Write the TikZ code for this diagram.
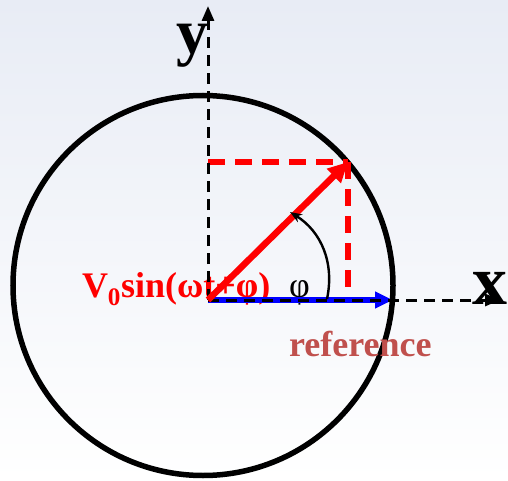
\documentclass[tikz,border=0pt]{standalone}
\usepackage{fontspec}
\setmainfont{Liberation Serif}
\usetikzlibrary{arrows.meta}
\definecolor{bgtop}{RGB}{232,236,245}
\definecolor{refred}{RGB}{192,80,77}
\begin{document}
\begin{tikzpicture}[x=1pt,y=-1pt,
  axisline/.style={line width=3pt, dash pattern=on 11pt off 7pt, -{Triangle[length=15pt,width=12pt]}},
  reddash/.style={red, line width=5.5pt, dash pattern=on 17pt off 10pt},
  lab/.style={anchor=base west, inner sep=0pt, outer sep=0pt}]
\useasboundingbox (0,0) rectangle (508,481);
\shade[top color=bgtop, bottom color=white] (0,0) rectangle (508,481);
\coordinate (O) at (208,300);
\coordinate (Ytip) at (208,6);
\coordinate (Xtip) at (500,300);
\coordinate (P) at (348,162);
\coordinate (Px) at (348,300);
\coordinate (Py) at (208,162);
\coordinate (B) at (393,300);
\coordinate (A1) at (327,299);
\coordinate (A2) at (290,212);
\node[draw, circle, minimum size=380pt, line width=5.5pt, inner sep=0pt] (circ) at (203,285.5) {};
% labels
\node[lab, font=\bfseries\fontsize{64}{64}\selectfont] (ylab) at (176,54) {y};
\node[lab, font=\bfseries\fontsize{70}{70}\selectfont] (xlab) at (472,304) {x};
\node[lab, red, font=\bfseries\fontsize{36}{36}\selectfont] (vlab) at (82,297) {V\textsubscript{0}sin(ωt+φ)};
\node[lab, font=\fontsize{36}{36}\selectfont] (phi) at (289,297) {φ};
\node[lab, refred, font=\bfseries\fontsize{36}{36}\selectfont] (ref) at (289,356) {reference};
% projections
\draw[reddash] (Py) -- (P);
\draw[reddash] (P) -- (Px);
% reference vector
\draw[blue, line width=5.5pt, -{Triangle[length=18pt,width=16pt]}] (O) -- (B);
% axes
\draw[axisline] (O) -- (Ytip);
\draw[axisline] (O) -- (Xtip);
% rotating vector
\draw[red, line width=6.5pt, -{Triangle[length=20pt,width=19pt]}] (O) -- (P);
% angle arc
\draw[line width=2.4pt, -{Stealth[length=12pt,width=9pt]}] (A1) to[bend right=35] (A2);
\end{tikzpicture}
\end{document}
